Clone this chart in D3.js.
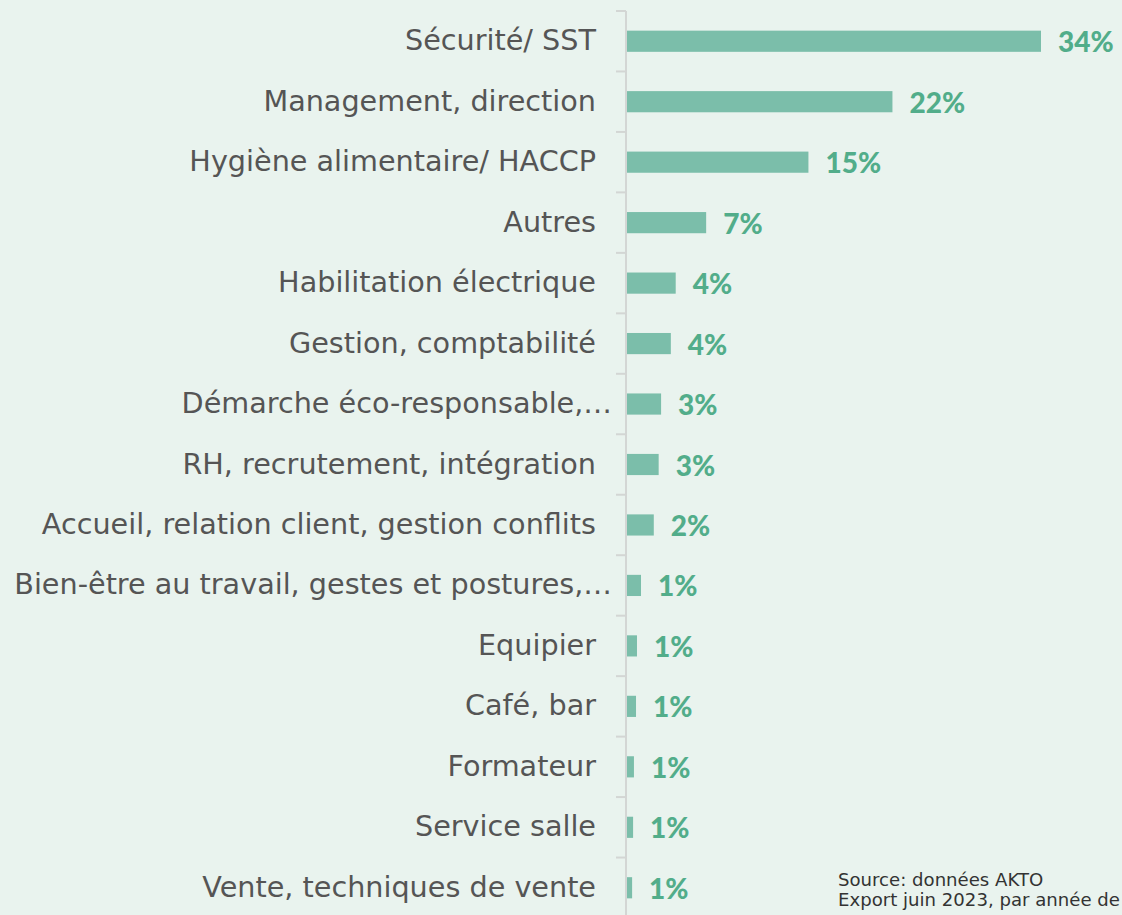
<!DOCTYPE html>
<html><head><meta charset="utf-8">
<script src="https://cdn.jsdelivr.net/npm/d3@7"></script>
<style>
html,body{margin:0;padding:0;background:#e9f3ee;overflow:hidden}
svg{display:block}
</style></head><body>
<svg id="c" width="1122" height="915"></svg>
<script>
const categories = ["Sécurité/ SST","Management, direction","Hygiène alimentaire/ HACCP","Autres","Habilitation électrique","Gestion, comptabilité","Démarche éco-responsable,…","RH, recrutement, intégration","Accueil, relation client, gestion conflits","Bien-être au travail, gestes et postures,…","Equipier","Café, bar","Formateur","Service salle","Vente, techniques de vente"];
const values = [34, 21.8, 14.9, 6.5, 4.0, 3.6, 2.8, 2.6, 2.2, 1.15, 0.82, 0.74, 0.57, 0.5, 0.42];
const valueLabels = ["34%","22%","15%","7%","4%","4%","3%","3%","2%","1%","1%","1%","1%","1%","1%"];
const sourceLines = ["Source: données AKTO","Export juin 2023, par année de"];

const svg = d3.select("#c");
const x0 = 627;
const x = d3.scaleLinear().domain([0, 34]).range([x0, 1041]);
const y = d3.scaleBand().domain(categories).range([11, 918]).paddingInner(0.65).paddingOuter(0.325);
const yAxisScale = d3.scaleBand().domain(categories).range([11, 918]);

// axis line & ticks
svg.append("line").attr("x1", x0-1).attr("x2", x0-1).attr("y1", 11).attr("y2", 915)
  .attr("stroke", "#d3d6d4").attr("stroke-width", 2);
const tickYs = categories.map(c => yAxisScale(c)).concat([yAxisScale(categories[categories.length-1]) + yAxisScale.bandwidth()]);
svg.selectAll("line.tick").data(tickYs).enter().append("line")
  .attr("x1", 616).attr("x2", x0-1).attr("y1", d=>d).attr("y2", d=>d)
  .attr("stroke", "#d3d6d4").attr("stroke-width", 2);

// bars
svg.selectAll("rect.bar").data(values).enter().append("rect")
  .attr("x", x0).attr("y", (d,i)=>y(categories[i]))
  .attr("width", d=>x(d)-x0).attr("height", y.bandwidth())
  .attr("fill", "#7bbeaa");

// category labels
const cats = svg.selectAll("text.cat").data(categories).enter().append("text")
  .attr("class","cat")
  .attr("x", d => d.endsWith("…") ? 612 : 596)
  .attr("y", d => y(d) + y.bandwidth()/2 + 9)
  .attr("text-anchor", "end")
  .attr("font-family", "'DejaVu Sans', sans-serif")
  .attr("font-size", 25).attr("fill", "#555555")
  .text(d=>d);
const longest = cats.filter(d => d === categories[9]).node();
const w = longest.getComputedTextLength();
cats.attr("font-size", 25 * 598 / w);

// value labels
svg.selectAll("text.val").data(values).enter().append("text")
  .attr("x", d => x(d) + 17)
  .attr("y", (d,i) => y(categories[i]) + y.bandwidth()/2 + 11)
  .attr("font-family", "Lato, sans-serif").attr("font-weight", 900)
  .attr("font-size", 28).attr("fill", "#52ad8a")
  .text((d,i)=>valueLabels[i]);

// source
const src = svg.selectAll("text.src").data(sourceLines).enter().append("text")
  .attr("x", 838).attr("y", (d,i)=>886 + i*20)
  .attr("font-family", "'DejaVu Sans', sans-serif").attr("font-size", 15).attr("fill", "#333")
  .text(d=>d);
const sw = src.filter((d,i)=>i===1).node().getComputedTextLength();
src.attr("font-size", 15 * 282 / sw);
</script>
</body></html>
